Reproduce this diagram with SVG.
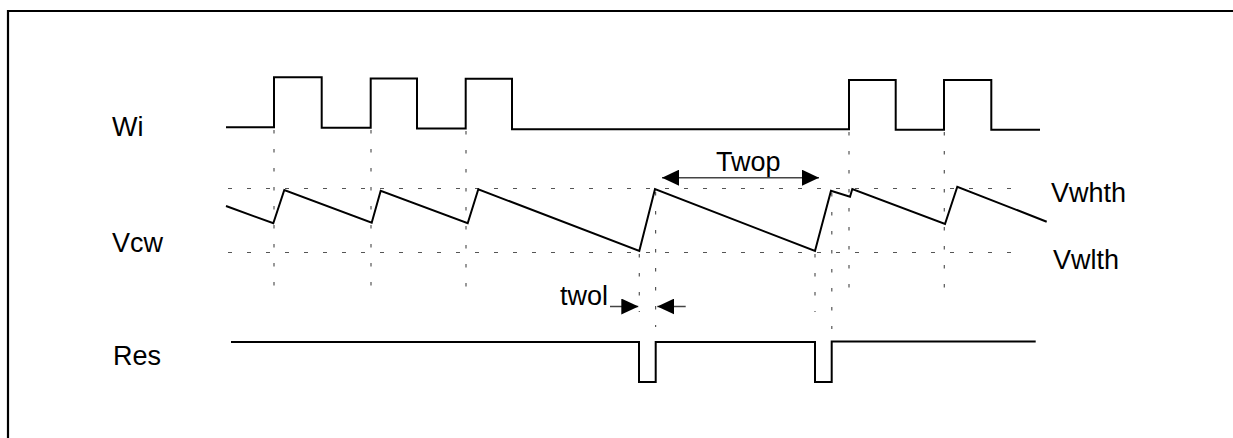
<svg xmlns="http://www.w3.org/2000/svg" width="1233" height="438" viewBox="0 0 1233 438">
<style>
.sig{fill:none;stroke:#000;stroke-width:2;stroke-linejoin:miter}
.guide{fill:none;stroke:#555;stroke-width:1.2;stroke-dasharray:4 15}
.vguide{fill:none;stroke:#555;stroke-width:1.2;stroke-dasharray:3.5 15.5}
.dim{fill:none;stroke:#444;stroke-width:1.5}
.lbl{font-family:"Liberation Sans",Arial,sans-serif;font-size:27px;fill:#000}
</style>
<defs>
<marker id="ah" viewBox="0 0 17 16" refX="17" refY="8" markerWidth="17" markerHeight="16" markerUnits="userSpaceOnUse" orient="auto-start-reverse">
<path d="M0,0 L17,8 L0,16 Z" fill="#000"/>
</marker>
</defs>
<rect width="1233" height="438" fill="#fff"/>
<g id="frame">
<path d="M8,438 V11 H1233" fill="none" stroke="#000" stroke-width="2.2"/>
</g>
<g id="guides">
<line class="guide" x1="228" y1="188.5" x2="1022" y2="188.5"/>
<line class="guide" x1="228" y1="252.5" x2="1020" y2="252.5"/>
<line class="vguide" x1="274" y1="130" x2="274" y2="291"/>
<line class="vguide" x1="371" y1="130" x2="371" y2="291"/>
<line class="vguide" x1="466" y1="131" x2="466" y2="291"/>
<line class="vguide" x1="849" y1="132" x2="849" y2="291"/>
<line class="vguide" x1="944.3" y1="132" x2="944.3" y2="291"/>
<line class="vguide" x1="639.3" y1="254" x2="639.3" y2="312"/>
<line class="vguide" x1="655.6" y1="192" x2="655.6" y2="327"/>
<line class="vguide" x1="815" y1="254" x2="815" y2="312"/>
<line class="vguide" x1="831.8" y1="193" x2="831.8" y2="329"/>
</g>
<g id="Wi">
<text class="lbl" x="112" y="136">Wi</text>
<path class="sig" d="M226,127.3 H274 V77.3 H321.7 V127.8 H370.7 V78.5 H417 V128.5 H465.7 V78.7 H512 V129.2 H849 V80 H895.7 V129.7 H944 V80 H991.3 V129.7 H1040"/>
</g>
<g id="Vcw">
<text class="lbl" x="112" y="252">Vcw</text>
<path class="sig" d="M226,206 L273.3,223.3 L284.3,190 L371.7,222.7 L380.7,190.7 L467.7,223.3 L478.3,189.3 L639.3,251 L655,189 L815,251 L831,190.7 L850,196.7 L852.3,189 L945,224 L957.3,186.7 L1046.7,221.7"/>
<text class="lbl" x="1051" y="202">Vwhth</text>
<text class="lbl" x="1053" y="269">Vwlth</text>
</g>
<g id="Res">
<text class="lbl" x="113" y="365">Res</text>
<path class="sig" d="M231,342 H639 V382 H655.7 V342 H815 V382 H831.7 V341.5 H1035.7"/>
</g>
<g id="connectors">
<line class="dim" x1="662" y1="177.7" x2="819" y2="177.7" marker-start="url(#ah)" marker-end="url(#ah)"/>
<text class="lbl" x="716" y="171">Twop</text>
<line class="dim" x1="610" y1="306.5" x2="638.3" y2="306.5" marker-end="url(#ah)"/>
<line class="dim" x1="685.7" y1="306.5" x2="657.3" y2="306.5" marker-end="url(#ah)"/>
<text class="lbl" x="560" y="305">twol</text>
</g>
</svg>
